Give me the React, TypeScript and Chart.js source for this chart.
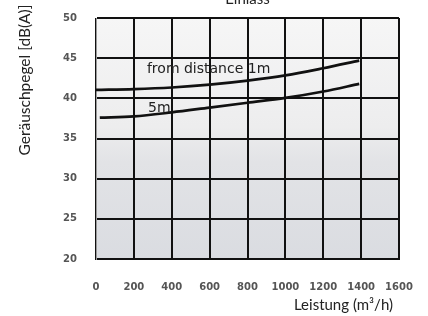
import React, { useEffect, useRef } from "react";
import { Chart, registerables } from "chart.js";

Chart.register(...registerables);

const xTicks = [0, 200, 400, 600, 800, 1000, 1200, 1400, 1600];
const yTicks = [20, 25, 30, 35, 40, 45, 50];

const series1mX = [0, 200, 400, 600, 800, 1000, 1200, 1390];
const series1mY = [41.05, 41.15, 41.35, 41.7, 42.2, 42.85, 43.75, 44.7];

const series5mX = [20, 200, 400, 600, 800, 1000, 1200, 1390];
const series5mY = [37.6, 37.75, 38.25, 38.85, 39.45, 40.05, 40.85, 41.8];

const curveLabels = [
  { text: "from distance 1m", x: 269, y: 43.6 },
  { text: "5m", x: 275, y: 38.7 },
];

const chartTitle = "Einlass";
const xTitle = "Leistung (m³/h)";
const yTitle = "Geräuschpegel [dB(A)]";

const overlay = {
  id: "overlay",
  beforeDraw(chart: any) {
    const { ctx, chartArea } = chart;
    const { left, right, top, bottom } = chartArea;
    const g = ctx.createLinearGradient(0, top, 0, bottom);
    g.addColorStop(0, "#f6f6f6");
    g.addColorStop(0.45, "#ededee");
    g.addColorStop(0.6, "#e2e3e6");
    g.addColorStop(1, "#dadce1");
    ctx.save();
    ctx.fillStyle = g;
    ctx.fillRect(left, top, right - left, bottom - top);
    ctx.restore();
  },
  afterDraw(chart: any) {
    const { ctx, chartArea, scales } = chart;
    ctx.save();
    ctx.fillStyle = "#222";
    ctx.font = '14px "DejaVu Sans"';
    ctx.textAlign = "left";
    ctx.textBaseline = "middle";
    curveLabels.forEach((l) => {
      ctx.fillText(l.text, scales.x.getPixelForValue(l.x), scales.y.getPixelForValue(l.y));
    });
    ctx.font = "15px Lato";
    ctx.textAlign = "center";
    ctx.textBaseline = "alphabetic";
    ctx.fillText(chartTitle, (chartArea.left + chartArea.right) / 2, 4);
    ctx.textAlign = "right";
    ctx.textBaseline = "middle";
    ctx.fillText(xTitle, 393, 305);
    ctx.font = "15.5px Lato";
    ctx.translate(25, 80);
    ctx.rotate(-Math.PI / 2);
    ctx.textAlign = "center";
    ctx.textBaseline = "middle";
    ctx.fillText(yTitle, 0, 0);
    ctx.restore();
  },
};

export default function App() {
  const ref = useRef<HTMLCanvasElement>(null);
  useEffect(() => {
    if (!ref.current) return;
    const mk = (xs: number[], ys: number[]) => xs.map((x, i) => ({ x, y: ys[i] }));
    const lineStyle = {
      borderColor: "#111",
      borderWidth: 2.7,
      pointRadius: 0,
      cubicInterpolationMode: "monotone" as const,
      fill: false,
    };
    const tickFont = { family: "DejaVu Sans", size: 10, weight: "bold" as const };
    const chart = new Chart(ref.current, {
      type: "line",
      data: {
        datasets: [
          { data: mk(series1mX, series1mY), ...lineStyle },
          { data: mk(series5mX, series5mY), ...lineStyle },
        ],
      },
      options: {
        animation: false,
        responsive: false,
        layout: { autoPadding: false, padding: { left: 0, right: 29, top: 18, bottom: 0 } },
        plugins: {
          legend: { display: false },
          tooltip: { enabled: false },
          title: { display: false },
        },
        scales: {
          x: {
            type: "linear",
            min: 0,
            max: 1600,
            afterBuildTicks: (s: any) => {
              s.ticks = xTicks.map((v) => ({ value: v }));
            },
            afterFit: (s: any) => {
              s.height = 57;
              s.paddingLeft = 0;
              s.paddingRight = 0;
            },
            ticks: {
              padding: 22,
              color: "#555",
              font: tickFont,
              maxRotation: 0,
              autoSkip: false,
              callback: (v: any) => String(v),
            },
            grid: { color: "#111", lineWidth: 2, drawTicks: false },
            border: { color: "#111", width: 2 },
          },
          y: {
            min: 20,
            max: 50,
            afterBuildTicks: (s: any) => {
              s.ticks = yTicks.map((v) => ({ value: v }));
            },
            afterFit: (s: any) => {
              s.width = 96;
              s.paddingTop = 0;
              s.paddingBottom = 0;
            },
            ticks: {
              padding: 19,
              color: "#555",
              font: tickFont,
              autoSkip: false,
              callback: (v: any) => String(v),
            },
            grid: { color: "#111", lineWidth: 2, drawTicks: false },
            border: { color: "#999", width: 1 },
          },
        },
      },
      plugins: [overlay],
    });
    return () => chart.destroy();
  }, []);
  return (
    <div style={{ position: "fixed", left: 0, top: 0, width: 428, height: 316, background: "#fff" }}>
      <canvas ref={ref} width={428} height={316} style={{ display: "block" }} />
    </div>
  );
}
